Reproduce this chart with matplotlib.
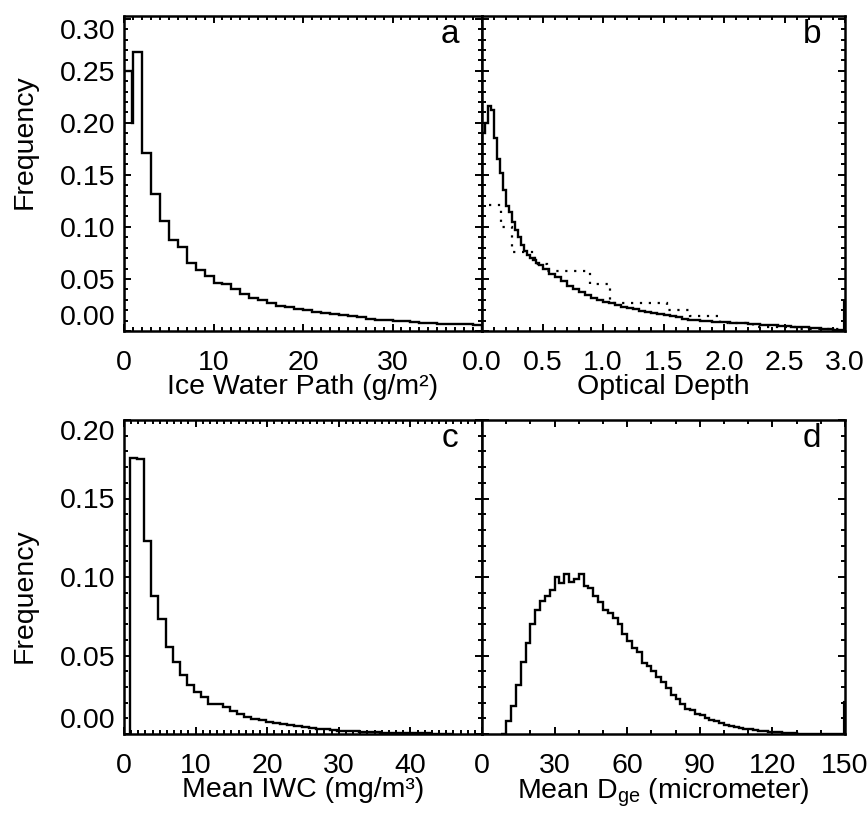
import numpy as np
import matplotlib
matplotlib.use("Agg")
import matplotlib.pyplot as plt
from matplotlib.ticker import MultipleLocator, FixedLocator, FormatStrFormatter

plt.rcParams['font.family'] = ['Liberation Sans', 'DejaVu Sans']
plt.rcParams['mathtext.fontset'] = 'custom'
plt.rcParams['mathtext.rm'] = 'Liberation Sans'

# ---------------- data ----------------
# (a) Ice water path histogram (g/m^2)
iwp_edges = np.concatenate(([0.0, 0.85], np.arange(1, 41)))
iwp_freq = [0.250, 0.200, 0.268, 0.171, 0.132, 0.106, 0.087, 0.081, 0.065, 0.059,
            0.053, 0.046, 0.045, 0.040, 0.036, 0.032, 0.030, 0.027, 0.024, 0.023,
            0.021, 0.020, 0.018, 0.017, 0.0167, 0.015, 0.014, 0.013, 0.012, 0.011,
            0.0105, 0.0098, 0.0095, 0.009, 0.008, 0.0075, 0.007, 0.0068, 0.0065, 0.0063,
            0.0060]

# (b) Optical depth histogram (solid) and second distribution (dotted)
tau_edges = np.concatenate((np.arange(0, 0.5, 0.025), np.arange(0.5, 3.001, 0.05)))
tau_freq = [0.190, 0.200, 0.216, 0.212, 0.185, 0.165, 0.152, 0.135, 0.120, 0.114,
            0.105, 0.097, 0.090, 0.083, 0.077, 0.073, 0.070, 0.068, 0.065, 0.063,
            0.060, 0.055, 0.052, 0.048, 0.043, 0.040, 0.037, 0.035, 0.032, 0.030,
            0.028, 0.027, 0.025, 0.023, 0.022, 0.021, 0.019, 0.018, 0.017, 0.016,
            0.015, 0.014, 0.013, 0.012, 0.011, 0.0105, 0.010, 0.0095, 0.009, 0.0088,
            0.0085, 0.008, 0.008, 0.0075, 0.007, 0.0065, 0.006, 0.0058, 0.0055, 0.005,
            0.0045, 0.004, 0.0038, 0.0035, 0.003, 0.0025, 0.002, 0.0015, 0.001, 0.0005]
tau_overflow = 0.027
tau2_edges = [0.06, 0.157, 0.245, 0.438, 0.534, 0.893, 1.058, 1.526, 1.72, 1.967, 2.24, 2.6, 3.0]
tau2_freq = [0.121, 0.100, 0.076, 0.064, 0.058, 0.045, 0.027, 0.020, 0.014, 0.008, 0.004, 0.002]

# (c) Mean IWC histogram (mg/m^3)
iwc_edges = np.arange(0.8, 46.0, 1.0)
iwc_freq = [0.176, 0.175, 0.123, 0.088, 0.073, 0.0557, 0.0456, 0.0373, 0.0314, 0.027,
            0.0233, 0.019, 0.019, 0.017, 0.0148, 0.0125, 0.011, 0.0098, 0.0088, 0.0078,
            0.007, 0.0062, 0.0055, 0.0049, 0.0043, 0.0038, 0.0033, 0.0029, 0.0025, 0.0022,
            0.0019, 0.0016, 0.0014, 0.0012, 0.001, 0.0009, 0.0008, 0.0007, 0.0006, 0.0005,
            0.0004, 0.0004, 0.0003, 0.0003, 0.0002]

# (d) Mean Dge histogram (micrometer)
dge_edges = np.arange(8, 152, 2)
dge_freq = [0.000, 0.008, 0.018, 0.031, 0.046, 0.058, 0.070, 0.079, 0.085, 0.088,
            0.092, 0.100, 0.096, 0.102, 0.097, 0.099, 0.102, 0.094, 0.093, 0.088,
            0.084, 0.079, 0.077, 0.074, 0.070, 0.064, 0.059, 0.055, 0.052, 0.045,
            0.043, 0.040, 0.036, 0.033, 0.029, 0.025, 0.022, 0.019, 0.016, 0.015,
            0.013, 0.012, 0.010, 0.009, 0.008, 0.007, 0.006, 0.005, 0.0045, 0.004,
            0.0035, 0.003, 0.0025, 0.002, 0.0018, 0.0015, 0.0012, 0.001, 0.0008, 0.0006,
            0.0005, 0.0003, 0.0003, 0.0003, 0.0003, 0.0003, 0.0003, 0.0003, 0.0003, 0.0003,
            0.0003]
dge_overflow = 0.020

ya_ticks = [0.00, 0.05, 0.10, 0.15, 0.20, 0.25, 0.30]
yc_ticks = [0.00, 0.05, 0.10, 0.15, 0.20]

# ---------------- figure ----------------
W, H = 868, 816
fig = plt.figure(figsize=(W / 100, H / 100), dpi=100)

def ax_at(l, t, r, b):
    return fig.add_axes([l / W, 1 - b / H, (r - l) / W, (b - t) / H])

FS = 20.5
LW = 1.7

axa = ax_at(124, 16, 482, 331)
axb = ax_at(482, 16, 845, 331)
axc = ax_at(124, 420, 482, 734)
axd = ax_at(482, 420, 845, 734)

def style(ax):
    for s in ax.spines.values():
        s.set_linewidth(1.8)
    ax.tick_params(which='both', direction='in', top=True, right=True,
                   labelsize=FS, width=1.4)
    ax.tick_params(axis='x', pad=13.5)
    ax.tick_params(axis='y', pad=6)
    ax.tick_params(which='major', length=5)
    ax.tick_params(which='minor', length=3)

for ax in (axa, axb, axc, axd):
    style(ax)

# panel a
axa.stairs(iwp_freq, iwp_edges, color='k', lw=LW)
axa.set_xlim(0, 40)
axa.set_ylim(0, 0.3026)
axa.xaxis.set_major_locator(FixedLocator([0, 10, 20, 30, 40]))
axa.set_xticklabels(['0', '10', '20', '30', ''])
axa.xaxis.set_minor_locator(MultipleLocator(1))
axa.yaxis.set_major_locator(FixedLocator(ya_ticks))
axa.yaxis.set_minor_locator(MultipleLocator(0.01))
axa.yaxis.set_major_formatter(FormatStrFormatter('%.2f'))
axa.set_xlabel('Ice Water Path (g/m²)', fontsize=FS, labelpad=-1.5)
axa.set_ylabel('Frequency', fontsize=FS)
axa.yaxis.set_label_coords(-0.24, 0.6)

# panel b
axb.stairs(tau_freq, tau_edges, color='k', lw=LW, baseline=0)
axb.plot([3.0, 3.0], [0, tau_overflow], color='k', lw=3)
axb.stairs(tau2_freq, tau2_edges, color='k', lw=1.6, linestyle=(0, (1, 3)), baseline=None)
axb.set_xlim(0, 3.0)
axb.set_ylim(0, 0.3026)
axb.xaxis.set_major_locator(FixedLocator([0, 0.5, 1.0, 1.5, 2.0, 2.5, 3.0]))
axb.xaxis.set_minor_locator(MultipleLocator(0.1))
axb.xaxis.set_major_formatter(FormatStrFormatter('%.1f'))
axb.yaxis.set_major_locator(FixedLocator(ya_ticks))
axb.yaxis.set_minor_locator(MultipleLocator(0.01))
axb.set_yticklabels([])
axb.set_xlabel('Optical Depth', fontsize=FS, labelpad=-1.5)

# panel c
axc.stairs(iwc_freq, iwc_edges, color='k', lw=LW, baseline=0)
axc.set_xlim(0, 50)
axc.set_ylim(0, 0.20)
axc.xaxis.set_major_locator(FixedLocator([0, 10, 20, 30, 40, 50]))
axc.set_xticklabels(['0', '10', '20', '30', '40', ''])
axc.xaxis.set_minor_locator(MultipleLocator(1))
axc.yaxis.set_major_locator(FixedLocator(yc_ticks))
axc.yaxis.set_minor_locator(MultipleLocator(0.01))
axc.yaxis.set_major_formatter(FormatStrFormatter('%.2f'))
axc.set_xlabel('Mean IWC (mg/m³)', fontsize=FS, labelpad=-1.5)
axc.set_ylabel('Frequency', fontsize=FS)
axc.yaxis.set_label_coords(-0.24, 0.44)

# panel d
axd.stairs(dge_freq, dge_edges, color='k', lw=LW, baseline=0)
axd.plot([150, 150], [0, dge_overflow], color='k', lw=3)
axd.set_xlim(0, 150)
axd.set_ylim(0, 0.20)
axd.xaxis.set_major_locator(FixedLocator([0, 30, 60, 90, 120, 150]))
axd.xaxis.set_minor_locator(MultipleLocator(10))
axd.yaxis.set_major_locator(FixedLocator(yc_ticks))
axd.yaxis.set_minor_locator(MultipleLocator(0.01))
axd.set_yticklabels([])
axd.set_xlabel('Mean D$_{\\mathregular{ge}}$ (micrometer)', fontsize=FS, labelpad=-1.5)

for ax, letter in zip((axa, axb, axc, axd), 'abcd'):
    ax.text(0.935, 0.94, letter, transform=ax.transAxes, ha='right', va='center',
            fontsize=24)

# shift the end y labels inward (as in reference)
for ax in (axa, axc):
    ticks = ax.yaxis.get_major_ticks()
    ticks[0].label1.set_va('bottom')
    ticks[-1].label1.set_va('top')

fig.savefig('out.png', dpi=100)
